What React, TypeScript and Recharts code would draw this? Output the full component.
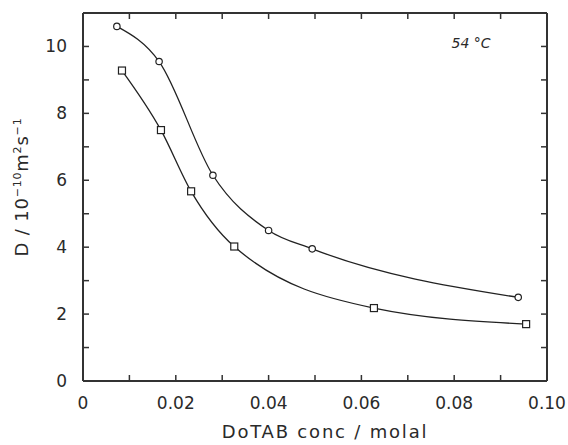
import React from 'react';
import { LineChart, Line, XAxis, YAxis, Label } from 'recharts';

// circles (upper curve)
const concCircle = [0.0073, 0.0164, 0.028, 0.04, 0.0494, 0.0938];
const dCircle = [10.6, 9.55, 6.15, 4.5, 3.95, 2.5];
// squares (lower curve)
const concSquare = [0.0084, 0.0168, 0.0233, 0.0326, 0.0627, 0.0955];
const dSquare = [9.28, 7.5, 5.67, 4.02, 2.18, 1.7];

const xTicks = [0, 0.01, 0.02, 0.03, 0.04, 0.05, 0.06, 0.07, 0.08, 0.09, 0.1];
const xLabels = ['0', '', '0.02', '', '0.04', '', '0.06', '', '0.08', '', '0.10'];
const yTicks = [0, 1, 2, 3, 4, 5, 6, 7, 8, 9, 10, 11];
const yLabels = ['0', '', '2', '', '4', '', '6', '', '8', '', '10', ''];

const circleData = concCircle.map((x, i) => ({ x, d: dCircle[i] }));
const squareData = concSquare.map((x, i) => ({ x, d: dSquare[i] }));

const INK = '#222';
const AXIS = '#333';
const TEXT = '#2a2a2a';
const FONT = '"DejaVu Sans", sans-serif';
const TICK = 6;

const BottomTick = (props: any) => {
  const { x, y, index } = props;
  const lbl = xLabels[index];
  return (
    <g>
      {index > 0 && index < xTicks.length - 1 && (
        <line x1={x} y1={y} x2={x} y2={y - TICK} stroke={AXIS} strokeWidth={1.5} />
      )}
      {lbl && (
        <text x={x} y={y + 28} textAnchor="middle" fontSize={17} fontFamily={FONT} fill={TEXT}>
          {lbl}
        </text>
      )}
    </g>
  );
};

const TopTick = (props: any) => {
  const { x, y, index } = props;
  if (index === 0 || index === xTicks.length - 1) return <g />;
  return <line x1={x} y1={y} x2={x} y2={y + TICK} stroke={AXIS} strokeWidth={1.5} />;
};

const LeftTick = (props: any) => {
  const { x, y, index } = props;
  const lbl = yLabels[index];
  return (
    <g>
      {index > 0 && index < yTicks.length - 1 && (
        <line x1={x} y1={y} x2={x + TICK} y2={y} stroke={AXIS} strokeWidth={1.5} />
      )}
      {lbl && (
        <text x={x - 16} y={y + 6} textAnchor="end" fontSize={17} fontFamily={FONT} fill={TEXT}>
          {lbl}
        </text>
      )}
    </g>
  );
};

const RightTick = (props: any) => {
  const { x, y, index } = props;
  if (index === 0 || index === yTicks.length - 1) return <g />;
  return <line x1={x} y1={y} x2={x - TICK} y2={y} stroke={AXIS} strokeWidth={1.5} />;
};

const SquareDot = (props: any) => {
  const { cx, cy, index } = props;
  if (cx == null || cy == null) return <g key={index} />;
  return <rect key={index} x={cx - 3.5} y={cy - 3.5} width={7} height={7} fill="#fff" stroke={INK} strokeWidth={1.2} />;
};

const XTitle = () => (
  <g>
    <text x={325} y={438} textAnchor="middle" fontSize={18} fontFamily={FONT} fill={TEXT} letterSpacing={1.8}>
      DoTAB conc / molal
    </text>
    <text x={471} y={48} textAnchor="middle" fontSize={14} fontFamily={FONT} fontStyle="italic" fill={TEXT}>
      54 °C
    </text>
  </g>
);

const YTitle = () => (
  <text
    x={28}
    y={187}
    textAnchor="middle"
    fontSize={18}
    fontFamily={FONT}
    fill={TEXT}
    letterSpacing={0.8}
    transform="rotate(-90, 28, 187)"
  >
    <tspan>D / 10</tspan>
    <tspan fontSize={11} dy={-7}>−10</tspan>
    <tspan dy={7}>m</tspan>
    <tspan fontSize={11} dy={-7}>2</tspan>
    <tspan dy={7}>s</tspan>
    <tspan fontSize={11} dy={-7}>−1</tspan>
  </text>
);

export default function App() {
  return (
    <div style={{ position: 'absolute', left: 0, top: 0, width: 568, height: 445, background: '#fff' }}>
      <LineChart width={568} height={445} margin={{ top: 12, right: 20, bottom: 0, left: 0 }}>
        <XAxis
          xAxisId="b"
          dataKey="x"
          type="number"
          domain={[0, 0.1]}
          ticks={xTicks}
          interval={0}
          height={64}
          tickSize={0}
          tickMargin={0}
          tick={<BottomTick />}
          axisLine={{ stroke: AXIS, strokeWidth: 2 }}
          allowDataOverflow
        >
          <Label content={<XTitle />} />
        </XAxis>
        <XAxis
          xAxisId="t"
          orientation="top"
          dataKey="x"
          type="number"
          domain={[0, 0.1]}
          ticks={xTicks}
          interval={0}
          height={1}
          tickSize={0}
          tickMargin={0}
          tick={<TopTick />}
          axisLine={{ stroke: AXIS, strokeWidth: 2 }}
          allowDataOverflow
        />
        <YAxis
          yAxisId="l"
          type="number"
          domain={[0, 11]}
          ticks={yTicks}
          interval={0}
          width={83}
          tickSize={0}
          tickMargin={0}
          tick={<LeftTick />}
          axisLine={{ stroke: AXIS, strokeWidth: 2 }}
          allowDataOverflow
        >
          <Label content={<YTitle />} />
        </YAxis>
        <YAxis
          yAxisId="r"
          orientation="right"
          type="number"
          domain={[0, 11]}
          ticks={yTicks}
          interval={0}
          width={1}
          tickSize={0}
          tickMargin={0}
          tick={<RightTick />}
          axisLine={{ stroke: AXIS, strokeWidth: 2 }}
          allowDataOverflow
        />
        {/* invisible series so the top and right frame axes get drawn */}
        <Line
          xAxisId="t"
          yAxisId="r"
          data={circleData}
          dataKey="d"
          stroke="none"
          dot={false}
          activeDot={false}
          isAnimationActive={false}
        />
        <Line
          xAxisId="b"
          yAxisId="l"
          data={circleData}
          dataKey="d"
          type="monotone"
          stroke={INK}
          strokeWidth={1.3}
          dot={{ r: 3.2, fill: '#fff', stroke: INK, strokeWidth: 1.2 }}
          isAnimationActive={false}
        />
        <Line
          xAxisId="b"
          yAxisId="l"
          data={squareData}
          dataKey="d"
          type="monotone"
          stroke={INK}
          strokeWidth={1.3}
          dot={<SquareDot />}
          isAnimationActive={false}
        />
      </LineChart>
    </div>
  );
}
